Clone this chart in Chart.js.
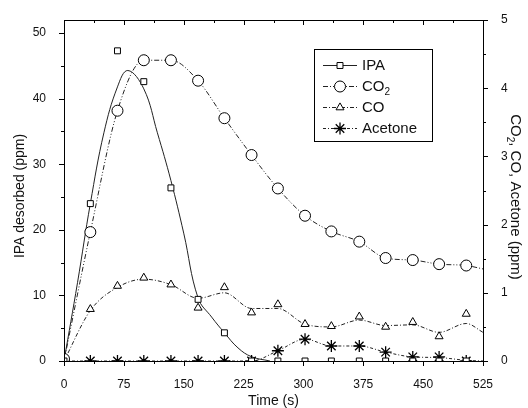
<!DOCTYPE html>
<html lang="en">
<head>
<meta charset="UTF-8">
<title>IPA desorption</title>
<script src="https://cdn.jsdelivr.net/npm/chart.js"></script>
<style>
  body { margin: 0; background: #fff; }
  #wrap { width: 528px; height: 408px; }
</style>
</head>
<body>
<div id="wrap"><canvas id="chart" width="528" height="408"></canvas></div>
<script>
// measured points (s)
const times = [0, 33, 67, 100, 134, 168, 201, 235, 268, 302, 335, 370, 403, 437, 470, 504];
const ipa = [0, 24, 47.3, 42.6, 26.4, 9.4, 4.3, 0, 0, 0, 0, 0, 0, 0, 0, 0];
const co2 = [0.03, 1.89, 3.67, 4.41, 4.41, 4.11, 3.56, 3.02, 2.53, 2.13, 1.90, 1.75, 1.51, 1.48, 1.42, 1.40];
const co = [0, 0.76, 1.10, 1.22, 1.12, 0.78, 1.08, 0.71, 0.83, 0.54, 0.51, 0.65, 0.50, 0.57, 0.36, 0.69];
const acetone = [0, 0, 0, 0, 0, 0, 0, 0, 0.15, 0.32, 0.22, 0.22, 0.13, 0.06, 0.06, 0];

// smoothed curves
const fitTimes = [0, 17, 33, 50, 67, 80, 100, 117, 134, 150, 168, 185, 201, 218, 235, 258];
const ipaFit = [0, 12, 24, 34.8, 41.8, 44.3, 41.5, 34.8, 27.5, 19.5, 9.6, 6.7, 4.3, 2.0, 0.65, 0];
const curveTimes = [0, 33, 67, 100, 134, 168, 201, 235, 268, 302, 335, 370, 403, 437, 470, 504, 525];
const co2Curve = [0, 1.89, 3.67, 4.41, 4.41, 4.11, 3.56, 3.02, 2.53, 2.13, 1.90, 1.75, 1.51, 1.48, 1.42, 1.40, 1.35];
const coCurve = [0, 0.74, 1.08, 1.2, 1.12, 0.92, 1.0, 0.77, 0.77, 0.54, 0.50, 0.60, 0.52, 0.53, 0.42, 0.55, 0.42];
const acetoneCurve = [0, 0, 0, 0, 0, 0, 0, 0, 0.15, 0.32, 0.22, 0.22, 0.13, 0.06, 0.05, 0.01, 0];

const xTicks = [0, 75, 150, 225, 300, 375, 450, 525];

const FONT = '"Liberation Sans", Arial, sans-serif';
const pts = (xs, ys) => xs.map((x, i) => ({ x: x, y: ys[i] }));

const dash = { ipa: [], co2: [5, 2, 1, 2, 1, 2], co: [4, 2, 1, 2], acetone: [3, 2, 1, 2] };

const styles = {
  IPA: { pointStyle: 'rect', radius: 4.2, bw: 1, d: dash.ipa },
  CO2: { pointStyle: 'circle', radius: 5.5, bw: 1, d: dash.co2 },
  CO: { pointStyle: 'triangle', radius: 4.6, bw: 1, d: dash.co },
  Acetone: { pointStyle: 'star', radius: 6, bw: 1.3, d: dash.acetone }
};

function markers(label, xs, ys, axis) {
  const s = styles[label];
  return {
    label: label, data: pts(xs, ys), yAxisID: axis, showLine: false,
    pointStyle: s.pointStyle, pointRadius: s.radius, pointHoverRadius: s.radius,
    pointBackgroundColor: '#fff', pointBorderColor: '#000', pointBorderWidth: s.bw, order: 0
  };
}
function curve(xs, ys, axis, d, mode) {
  const ds = {
    data: pts(xs, ys), yAxisID: axis, showLine: true, pointRadius: 0,
    borderColor: '#222', borderWidth: 1, borderDash: d, order: 1
  };
  if (mode === 'monotone') ds.cubicInterpolationMode = 'monotone';
  else ds.tension = 0.4;
  return ds;
}

// text with a subscript "2", drawn at the current origin
function drawSubText(ctx, parts, big, small, align) {
  ctx.textAlign = 'left';
  ctx.textBaseline = 'alphabetic';
  ctx.font = big + 'px ' + FONT;
  const w0 = ctx.measureText(parts[0]).width;
  const w2 = ctx.measureText(parts[2]).width;
  ctx.font = small + 'px ' + FONT;
  const w1 = ctx.measureText(parts[1]).width;
  const total = w0 + w1 + w2;
  const x0 = align === 'center' ? -total / 2 : 0;
  const y0 = align === 'center' ? big * 0.36 : 0;
  ctx.font = big + 'px ' + FONT;
  ctx.fillText(parts[0], x0, y0);
  ctx.font = small + 'px ' + FONT;
  ctx.fillText(parts[1], x0 + w0, y0 + 4);
  ctx.font = big + 'px ' + FONT;
  ctx.fillText(parts[2], x0 + w0 + w1, y0);
}

const frame = {
  id: 'frame',
  afterDraw(chart) {
    const { ctx, chartArea: a } = chart;
    const { x, y, y2 } = chart.scales;
    ctx.save();
    ctx.strokeStyle = '#000';
    ctx.lineWidth = 1;
    ctx.setLineDash([]);
    ctx.strokeRect(a.left + 0.5, a.top + 0.5, a.right - a.left, a.bottom - a.top);

    ctx.beginPath();
    for (let v = 0; v <= 525; v += 37.5) {
      const px = Math.round(x.getPixelForValue(v)) + 0.5;
      const len = v % 75 === 0 ? 5 : 3;
      ctx.moveTo(px, a.bottom); ctx.lineTo(px, a.bottom + len);
      ctx.moveTo(px, a.top); ctx.lineTo(px, a.top + len);
    }
    for (let v = 0; v <= 50; v += 5) {
      const py = Math.round(y.getPixelForValue(v)) + 0.5;
      const len = v % 10 === 0 ? 5 : 3;
      ctx.moveTo(a.left, py); ctx.lineTo(a.left - len, py);
    }
    for (let v = 0; v <= 5; v += 0.5) {
      const py = Math.round(y2.getPixelForValue(v)) + 0.5;
      const len = v % 1 === 0 ? 5 : 3;
      ctx.moveTo(a.right, py); ctx.lineTo(a.right + len, py);
    }
    ctx.stroke();

    // axis titles
    ctx.fillStyle = '#111';
    ctx.font = '14px ' + FONT;
    ctx.textAlign = 'center';
    ctx.textBaseline = 'alphabetic';
    ctx.fillText('Time (s)', (a.left + a.right) / 2, 405);

    ctx.save();
    ctx.translate(24, 196);
    ctx.rotate(-Math.PI / 2);
    ctx.fillText('IPA desorbed (ppm)', 0, 0);
    ctx.restore();

    ctx.save();
    ctx.translate(516, 197);
    ctx.rotate(Math.PI / 2);
    drawSubText(ctx, ['CO', '2', ', CO, Acetone (ppm)'], 15, 10, 'center');
    ctx.restore();

    // legend
    ctx.strokeRect(314.5, 49.5, 118, 92);
    const rows = [['IPA', 65], ['CO2', 86], ['CO', 107], ['Acetone', 128]];
    rows.forEach(([name, cy]) => {
      const s = styles[name];
      ctx.strokeStyle = '#222';
      ctx.lineWidth = 1;
      ctx.setLineDash(s.d);
      ctx.beginPath();
      ctx.moveTo(323, cy + 0.5); ctx.lineTo(357, cy + 0.5);
      ctx.stroke();
      ctx.setLineDash([]);
      ctx.strokeStyle = '#000';
      ctx.fillStyle = '#fff';
      ctx.lineWidth = s.bw;
      Chart.helpers.drawPoint(ctx, { pointStyle: s.pointStyle, radius: s.radius, rotation: 0, borderWidth: s.bw }, 340, cy + 0.5);
      ctx.lineWidth = 1;
      ctx.fillStyle = '#111';
      if (name === 'CO2') {
        ctx.save();
        ctx.translate(362, cy + 5);
        drawSubText(ctx, ['CO', '2', ''], 15, 10, 'left');
        ctx.restore();
      } else {
        ctx.textAlign = 'left';
        ctx.textBaseline = 'alphabetic';
        ctx.font = '15px ' + FONT;
        ctx.fillText(name, 362, cy + 5);
      }
    });
    ctx.restore();
  }
};

new Chart(document.getElementById('chart'), {
  type: 'scatter',
  data: {
    datasets: [
      markers('IPA', times, ipa, 'y'),
      markers('CO2', times, co2, 'y2'),
      markers('CO', times, co, 'y2'),
      markers('Acetone', times, acetone, 'y2'),
      curve(fitTimes, ipaFit, 'y', dash.ipa, 'tension'),
      curve(curveTimes, co2Curve, 'y2', dash.co2, 'monotone'),
      curve(curveTimes, coCurve, 'y2', dash.co, 'monotone'),
      curve(curveTimes, acetoneCurve, 'y2', dash.acetone, 'monotone')
    ]
  },
  options: {
    responsive: false,
    animation: false,
    devicePixelRatio: 1,
    layout: { padding: { top: 20, left: 0, right: 0, bottom: 0 } },
    plugins: { legend: { display: false }, tooltip: { enabled: false } },
    scales: {
      x: {
        type: 'linear', min: 0, max: 525,
        afterBuildTicks: s => { s.ticks = xTicks.map(v => ({ value: v })); },
        ticks: { font: { family: FONT, size: 12 }, color: '#111', padding: 8, maxRotation: 0 },
        grid: { display: false }, border: { display: false },
        afterFit: s => { s.height = 47; }
      },
      y: {
        position: 'left', min: 0, max: 52,
        ticks: { stepSize: 10, includeBounds: false, font: { family: FONT, size: 12 }, color: '#111', padding: 10 },
        grid: { display: false }, border: { display: false },
        afterFit: s => { s.width = 64; }
      },
      y2: {
        position: 'right', min: 0, max: 5,
        ticks: { stepSize: 1, font: { family: FONT, size: 12 }, color: '#111', padding: 10 },
        grid: { display: false }, border: { display: false },
        afterFit: s => { s.width = 45; }
      }
    }
  },
  plugins: [frame]
});
</script>
</body>
</html>
